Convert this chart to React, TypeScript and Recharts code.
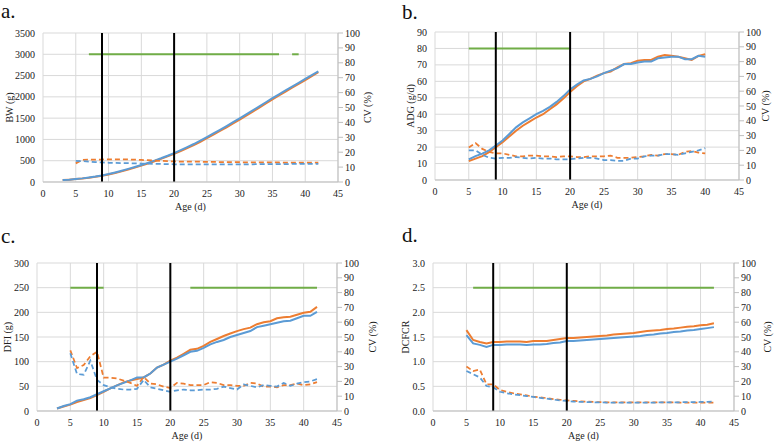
import { ComposedChart, Line, XAxis, YAxis, CartesianGrid, ReferenceLine, Label } from 'recharts'

const BLUE = '#5B9BD5'
const ORANGE = '#ED7D31'
const GREEN = '#70AD47'
const GRID = '#D9D9D9'
const AXIS = '#BFBFBF'
const FONT = '"Liberation Serif", "Times New Roman", serif'

const xTicks = [0, 5, 10, 15, 20, 25, 30, 35, 40, 45]
const cvTicks = [0, 10, 20, 30, 40, 50, 60, 70, 80, 90, 100]
const periodLines = [9, 20]

// a. body weight
const agesA = [3, 4, 5, 6, 7, 8, 9, 10, 11, 12, 13, 14, 15, 16, 17, 18, 19, 20, 21, 22, 23, 24, 25, 26, 27, 28, 29, 30, 31, 32, 33, 34, 35, 36, 37, 38, 39, 40, 41, 42]
const bwBlue = [45, 55, 70, 85, 105, 128, 155, 188, 225, 265, 308, 353, 400, 450, 503, 558, 617, 680, 750, 820, 892, 970, 1055, 1140, 1227, 1315, 1405, 1497, 1590, 1683, 1777, 1873, 1970, 2060, 2150, 2240, 2330, 2420, 2510, 2600]
const bwOrange = [45, 55, 68, 82, 100, 122, 148, 178, 212, 250, 292, 337, 385, 435, 488, 543, 602, 662, 728, 797, 868, 945, 1028, 1112, 1198, 1285, 1375, 1467, 1560, 1653, 1748, 1845, 1943, 2035, 2125, 2215, 2305, 2395, 2488, 2580]
const bwCvOrange = [null, null, 12.5, 14.8, 15, 15.1, 15.1, 15.2, 15.2, 15.2, 15.1, 15, 14.8, 14.6, 14.4, 14.2, 14, 13.8, 13.7, 13.7, 13.6, 13.6, 13.5, 13.5, 13.4, 13.4, 13.3, 13.3, 13.2, 13.2, 13.2, 13.1, 13.1, 13.1, 13, 13, 13, 13, 13, 13]
const bwCvBlue = [null, null, 14.1, 14, 13.7, 13.3, 13.1, 12.9, 12.8, 12.7, 12.6, 12.5, 12.4, 12.3, 12.2, 12.1, 12, 11.9, 11.9, 11.8, 11.8, 11.8, 11.8, 11.8, 11.8, 11.8, 11.9, 11.9, 11.9, 11.9, 12, 12, 12, 12, 12, 12.1, 12.1, 12.1, 12.1, 12.1]
const bwGreen = [[7, 36], [38, 39]]

// b. average daily gain
const agesB = [5, 6, 7, 8, 9, 10, 11, 12, 13, 14, 15, 16, 17, 18, 19, 20, 21, 22, 23, 24, 25, 26, 27, 28, 29, 30, 31, 32, 33, 34, 35, 36, 37, 38, 39, 40]
const adgBlue = [12.5, 14.5, 16, 18, 21, 24, 28, 32, 35, 37.5, 40, 42, 44.5, 47.5, 51, 55, 58, 60.5, 61.5, 63, 65, 66.5, 68, 70.5, 70.5, 71.5, 72, 72, 74, 74.5, 75, 75, 73.5, 73.5, 75.5, 75]
const adgOrange = [11.5, 13, 14.5, 17, 20, 23, 26.5, 30, 33, 35.5, 38, 40, 43, 46, 49.5, 53.5, 57, 60, 61.5, 63.5, 65, 66, 68.5, 70.5, 71, 72.5, 73, 73, 75, 76, 75.5, 75, 74, 73, 75.5, 76.5]
const adgCvOrange = [22, 25, 21, 19, 18, 18, 17, 16, 16, 16.5, 16.5, 16, 16, 15.5, 16, 16, 15.5, 15.5, 16, 16, 16, 16.5, 15, 15, 15, 15.5, 16, 17, 16.5, 17.5, 17.5, 17, 19, 19.5, 18.5, 18]
const adgCvBlue = [20, 20, 17, 15, 14.5, 15, 15, 15.5, 15, 14.5, 15, 14.5, 14.5, 14, 14, 14, 14.5, 15, 15, 14.5, 13.5, 13.5, 13, 13, 14.5, 14.5, 16, 16.5, 16.5, 17.5, 17.5, 17, 18, 19, 20, 21.5]
const adgGreen = [[5, 20]]

// c. daily feed intake
const agesC = [3, 4, 5, 6, 7, 8, 9, 10, 11, 12, 13, 14, 15, 16, 17, 18, 19, 20, 21, 22, 23, 24, 25, 26, 27, 28, 29, 30, 31, 32, 33, 34, 35, 36, 37, 38, 39, 40, 41, 42]
const dfiBlue = [5, 10, 14, 21, 24, 28, 34, 40, 46, 52, 57, 62, 68, 68, 76, 88, 94, 100, 106, 113, 120, 122, 128, 135, 140, 144, 150, 154, 158, 162, 170, 173, 176, 179, 182, 183, 188, 193, 193, 201]
const dfiOrange = [5, 9, 13, 18, 22, 26, 32, 39, 46, 52, 58, 62, 65, 68, 76, 88, 94, 102, 108, 116, 124, 126, 132, 140, 146, 152, 157, 162, 166, 169, 176, 180, 182, 188, 190, 191, 195, 199, 201, 211]
const dfiCvOrange = [null, null, 41, 29, 31, 37, 40, 22.5, 22.5, 22, 20.5, 19, 17, 23, 18.5, 18, 16.5, 15.5, 19, 18.5, 17.5, 17.5, 17.5, 19.5, 19, 17.5, 17.5, 17, 17, 19, 18.5, 16.5, 16.5, 16, 17.5, 17.5, 18.5, 17.5, 18, 19.5]
const dfiCvBlue = [null, null, 39, 25, 24.5, 34, 21, 17.5, 16, 15, 14.5, 14.5, 15, 21, 16, 15, 14, 13, 14, 14.5, 14, 14, 14.5, 14.5, 15, 16.5, 15.5, 14.5, 18, 17, 16, 17.5, 17, 16.5, 19, 17, 18.5, 19.5, 20, 21.5]
const dfiGreen = [[5, 10], [23, 42]]

// d. DCFCR
const agesD = [5, 6, 7, 8, 9, 10, 11, 12, 13, 14, 15, 16, 17, 18, 19, 20, 21, 22, 23, 24, 25, 26, 27, 28, 29, 30, 31, 32, 33, 34, 35, 36, 37, 38, 39, 40, 41, 42]
const fcrOrange = [1.64, 1.44, 1.4, 1.37, 1.4, 1.4, 1.41, 1.41, 1.41, 1.4, 1.42, 1.42, 1.42, 1.44, 1.46, 1.48, 1.48, 1.49, 1.5, 1.51, 1.52, 1.53, 1.55, 1.56, 1.57, 1.58, 1.6, 1.62, 1.63, 1.64, 1.66, 1.67, 1.69, 1.71, 1.72, 1.74, 1.75, 1.78]
const fcrBlue = [1.54, 1.37, 1.34, 1.3, 1.34, 1.34, 1.35, 1.35, 1.35, 1.34, 1.35, 1.35, 1.36, 1.38, 1.39, 1.42, 1.42, 1.43, 1.44, 1.45, 1.46, 1.47, 1.48, 1.49, 1.5, 1.51, 1.52, 1.54, 1.55, 1.57, 1.58, 1.6, 1.61, 1.63, 1.64, 1.66, 1.68, 1.7]
const fcrCvOrange = [30, 27, 28, 18, 18, 14.2, 13, 12, 11.3, 10.5, 9.7, 9.2, 8.7, 8.1, 7.6, 7.2, 6.8, 6.5, 6.3, 6.1, 6, 5.9, 5.8, 5.8, 5.8, 5.8, 5.8, 5.8, 5.8, 5.8, 5.8, 5.8, 5.7, 5.7, 5.7, 5.6, 5.6, 5.6]
const fcrCvBlue = [27, 24.9, 22.7, 16.9, 16, 13, 12, 11.3, 10.7, 10.1, 9.5, 8.9, 8.3, 7.7, 7.2, 6.8, 6.4, 6.2, 6, 5.9, 5.8, 5.7, 5.6, 5.6, 5.6, 5.6, 5.6, 5.7, 5.7, 5.8, 5.8, 5.9, 5.9, 6, 6, 6.1, 6.2, 6.3]
const fcrGreen = [[6, 42]]

const W = 390
const H = 221
const tickStyle = { fontSize: 10, fill: '#222', fontFamily: FONT }

const sideLabel = (text: string, x: number) => (props: any) => {
  const vb = props.viewBox
  const cy = vb.y + vb.height / 2
  return (
    <text x={x} y={cy} transform={`rotate(-90 ${x} ${cy})`} textAnchor="middle" dominantBaseline="central"
      style={{ fontSize: 10, fill: '#222', fontFamily: FONT }}>{text}</text>
  )
}

function Panel(props: any) {
  const { ages, blue, orange, cvBlue, cvOrange, green, greenY, domain, ticks, yLabel, fmt, g } = props
  const rows = ages.map((age: number, i: number) => ({
    age, blue: blue[i], orange: orange[i], cvBlue: cvBlue[i], cvOrange: cvOrange[i],
  }))
  return (
    <ComposedChart width={W} height={H} data={rows}
      margin={{ top: g.top, right: 0, left: 0, bottom: H - g.bottom - 20 }}>
      <CartesianGrid yAxisId="left" stroke={GRID} />
      <XAxis dataKey="age" type="number" domain={[0, 45]} ticks={xTicks} interval={0} height={20}
        tickLine={false} axisLine={{ stroke: AXIS }} tick={tickStyle}>
        <Label value="Age (d)" position="bottom" offset={1} style={{ fontSize: 10, fill: '#222', fontFamily: FONT }} />
      </XAxis>
      <YAxis yAxisId="left" width={g.left} domain={domain} ticks={ticks} interval={0}
        axisLine={false} tickLine={false} tick={tickStyle} tickFormatter={fmt}
        label={{ content: sideLabel(yLabel, g.yLabelX) }} />
      <YAxis yAxisId="right" orientation="right" width={W - g.right} domain={[0, 100]} ticks={cvTicks} interval={0}
        axisLine={{ stroke: AXIS }} tickLine={{ stroke: AXIS }} tickSize={5} tick={tickStyle}
        label={{ content: sideLabel('CV (%)', g.cvLabelX) }} />
      <Line yAxisId="left" dataKey="orange" stroke={ORANGE} strokeWidth={2} dot={false} isAnimationActive={false} />
      <Line yAxisId="left" dataKey="blue" stroke={BLUE} strokeWidth={2} dot={false} isAnimationActive={false} />
      <Line yAxisId="right" dataKey="cvOrange" stroke={ORANGE} strokeWidth={1.75} strokeDasharray="5 3" dot={false} isAnimationActive={false} />
      <Line yAxisId="right" dataKey="cvBlue" stroke={BLUE} strokeWidth={1.75} strokeDasharray="5 3" dot={false} isAnimationActive={false} />
      {green.map((s: number[]) => (
        <ReferenceLine key={`g-${s[0]}`} yAxisId="left" segment={[{ x: s[0], y: greenY }, { x: s[1], y: greenY }]}
          stroke={GREEN} strokeWidth={2} />
      ))}
      {periodLines.map((x) => (
        <ReferenceLine key={`p-${x}`} yAxisId="left" x={x} stroke="#000" strokeWidth={2} />
      ))}
    </ComposedChart>
  )
}

const title = { position: 'absolute' as const, fontSize: 21, lineHeight: 1, fontFamily: FONT, color: '#111' }

export default function App() {
  return (
    <div style={{ position: 'absolute', left: 0, top: 0, width: 780, height: 442, background: '#fff', fontFamily: FONT }}>
      <div style={{ ...title, left: 1, top: 1 }}>a.</div>
      <div style={{ ...title, left: 402, top: 2 }}>b.</div>
      <div style={{ ...title, left: 1, top: 226 }}>c.</div>
      <div style={{ ...title, left: 402, top: 225 }}>d.</div>
      <div style={{ position: 'absolute', left: 0, top: 0 }}>
        <Panel ages={agesA} blue={bwBlue} orange={bwOrange} cvBlue={bwCvBlue} cvOrange={bwCvOrange}
          green={bwGreen} greenY={3000} domain={[0, 3500]} ticks={[0, 500, 1000, 1500, 2000, 2500, 3000, 3500]}
          yLabel="BW (g)" g={{ left: 43, right: 338, top: 33, bottom: 182, yLabelX: 9, cvLabelX: 367 }} />
      </div>
      <div style={{ position: 'absolute', left: 390, top: 0 }}>
        <Panel ages={agesB} blue={adgBlue} orange={adgOrange} cvBlue={adgCvBlue} cvOrange={adgCvOrange}
          green={adgGreen} greenY={80} domain={[0, 90]} ticks={[0, 10, 20, 30, 40, 50, 60, 70, 80, 90]}
          yLabel="ADG (g/d)" g={{ left: 45, right: 349, top: 32, bottom: 180, yLabelX: 20, cvLabelX: 375 }} />
      </div>
      <div style={{ position: 'absolute', left: 0, top: 221 }}>
        <Panel ages={agesC} blue={dfiBlue} orange={dfiOrange} cvBlue={dfiCvBlue} cvOrange={dfiCvOrange}
          green={dfiGreen} greenY={250} domain={[0, 300]} ticks={[0, 50, 100, 150, 200, 250, 300]}
          yLabel="DFI (g)" g={{ left: 37, right: 337, top: 42, bottom: 190, yLabelX: 7, cvLabelX: 372 }} />
      </div>
      <div style={{ position: 'absolute', left: 390, top: 221 }}>
        <Panel ages={agesD} blue={fcrBlue} orange={fcrOrange} cvBlue={fcrCvBlue} cvOrange={fcrCvOrange}
          green={fcrGreen} greenY={2.5} domain={[0, 3]} ticks={[0, 0.5, 1, 1.5, 2, 2.5, 3]}
          fmt={(v: number) => v.toFixed(1)}
          yLabel="DCFCR" g={{ left: 43, right: 344, top: 42, bottom: 190, yLabelX: 15, cvLabelX: 377 }} />
      </div>
    </div>
  )
}
